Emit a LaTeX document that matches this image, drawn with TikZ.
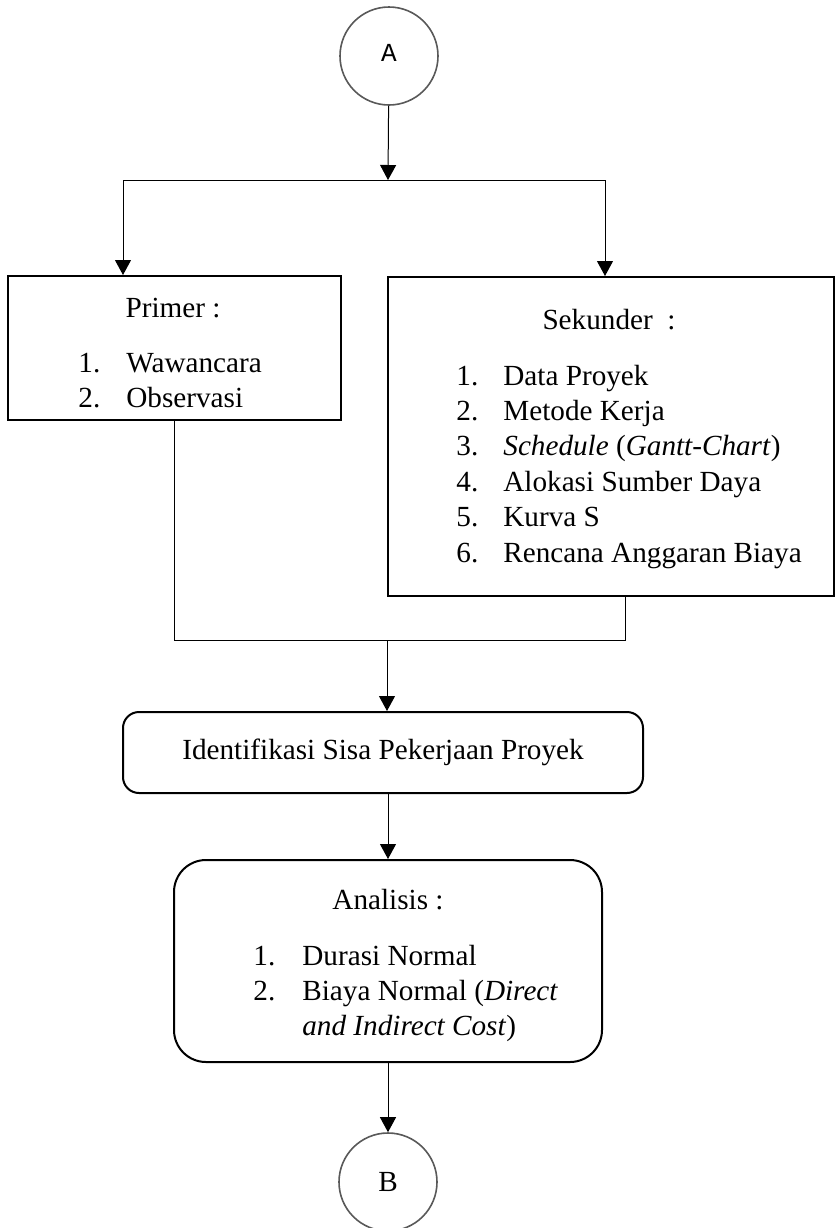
\documentclass[tikz,border=0pt]{standalone}
\usepackage{fontspec}
\setmainfont{Liberation Serif}
\newfontfamily\hurufmono{Liberation Mono}
\usepackage{tikz}
\usetikzlibrary{arrows.meta}

\begin{document}
\begin{tikzpicture}[x=0.5pt,y=-0.5pt,font=\fontsize{14.6}{17.7}\selectfont]
	\tikzstyle{lingkaran}=[circle,draw=black!65,line width=0.8pt,fill=white,minimum size=49pt,inner sep=0pt]
	\tikzstyle{kotak}=[rectangle,draw,line width=1pt,fill=white,inner sep=0pt]
	\tikzstyle{kotakbulat}=[rectangle,draw,line width=1pt,fill=white,inner sep=0pt]
	\tikzstyle{judul}=[anchor=base,inner sep=0pt]
	\tikzstyle{daftar}=[anchor=base west,inner sep=0pt]
	\tikzstyle{garis}=[line width=0.5pt]
	\tikzstyle{panah}=[line width=0.5pt,-{Triangle[length=7.5pt,width=8pt]}]
	\useasboundingbox (0,0) rectangle (836,1228);
	\node[lingkaran] (A) at (389,56) {\raisebox{3pt}{\hurufmono\fontsize{13}{15}\selectfont A}};
	\coordinate (cabang) at (388,180);
	\coordinate (cabangkiri) at (123,180);
	\coordinate (cabangkanan) at (605,180);
	\node[kotak,minimum width=166.5pt,minimum height=72pt] (primer) at (174.5,348){};
	\node[judul] (primerjudul) at (173,317){Primer :};
	\node[daftar] (primerisi) at (78,372){\begin{tabular}[t]{@{}p{24pt}@{}l@{}}
		1. & Wawancara\\
		2. & Observasi
	\end{tabular}};
	\node[kotak,minimum width=223pt,minimum height=159.5pt] (sekunder) at (610.5,436.5){};
	\node[judul] (sekunderjudul) at (609,329){Sekunder\ \ :};
	\node[daftar] (sekunderisi) at (456,385){\begin{tabular}[t]{@{}p{23.5pt}@{}l@{}}
		1. & Data Proyek\\
		2. & Metode Kerja\\
		3. & \textit{Schedule} (\textit{Gantt-Chart})\\
		4. & Alokasi Sumber Daya\\
		5. & Kurva S\\
		6. & Rencana Anggaran Biaya
	\end{tabular}};
	\coordinate (gabung) at (387,640);
	\coordinate (gabungkiri) at (174.5,640);
	\coordinate (gabungkanan) at (625,640);
	\node[kotakbulat,rounded corners=8pt,minimum width=260pt,minimum height=40.5pt] (identifikasi) at (383,752.5){Identifikasi Sisa Pekerjaan Proyek};
	\node[kotakbulat,rounded corners=16pt,minimum width=214pt,minimum height=101pt] (analisis) at (388,961){};
	\node[judul] (analisisjudul) at (388,909){Analisis :};
	\node[daftar] (analisisisi) at (253,965){\begin{tabular}[t]{@{}p{24.5pt}@{}l@{}}
		1. & Durasi Normal\\
		2. & Biaya Normal (\textit{Direct}\\
		 & \textit{and Indirect Cost})
	\end{tabular}};
	\node[lingkaran] (B) at (388,1182){B};
	\draw[panah] (A) -- (cabang);
	\draw[garis] (cabangkiri) -- (cabangkanan);
	\draw[panah] (cabangkiri) -- (cabangkiri |- primer.north);
	\draw[panah] (cabangkanan) -- (cabangkanan |- sekunder.north);
	\draw[garis] (primer.south) -- (gabungkiri) -- (gabungkanan) -- (gabungkanan |- sekunder.south);
	\draw[panah] (gabung) -- (gabung |- identifikasi.north);
	\draw[panah] (analisis.north |- identifikasi.south) -- (analisis.north);
	\draw[panah] (analisis) -- (B);
\end{tikzpicture}
\end{document}
